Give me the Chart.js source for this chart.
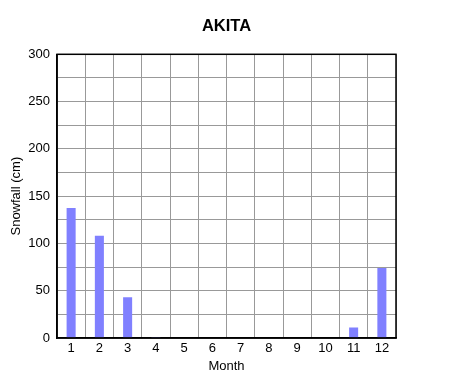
<!DOCTYPE html>
<html><head><meta charset="utf-8">
<script src="https://cdn.jsdelivr.net/npm/chart.js@4/dist/chart.umd.min.js"></script>
<style>html,body{margin:0;padding:0;background:#fff}#wrap{width:460px;height:390px}</style>
</head><body><div id="wrap"><canvas id="c" width="460" height="390"></canvas></div>
<script>
const months = ['1','2','3','4','5','6','7','8','9','10','11','12'];
const snowfall = [137.5, 108, 43, 1, 0, 0, 0, 0, 0, 0, 11, 74];
const yTickLabels = [0, 50, 100, 150, 200, 250, 300];

const frame = {
  id: 'frame',
  afterDraw(chart) {
    const {ctx, chartArea: a} = chart;
    ctx.save();
    ctx.strokeStyle = '#000';
    ctx.lineWidth = 1.5;
    ctx.strokeRect(a.left, a.top, a.right - a.left, a.bottom - a.top);
    ctx.restore();
  }
};

new Chart(document.getElementById('c'), {
  type: 'bar',
  data: { labels: months, datasets: [{ data: snowfall, backgroundColor: '#8080ff', borderWidth: 0,
    categoryPercentage: 1, barPercentage: 0.32 }] },
  options: {
    responsive: false, animation: false,
    layout: { padding: { left: 0, right: 64, top: 0, bottom: 0 } },
    plugins: {
      legend: { display: false }, tooltip: { enabled: false },
      title: { display: true, text: 'AKITA', color: '#000', fullSize: false,
        font: { family: 'Liberation Sans, Arial, sans-serif', size: 16.5, weight: 'bold' },
        padding: { top: 16.1, bottom: 18.4 } }
    },
    scales: {
      x: {
        grid: { color: '#999', offset: true, drawTicks: false },
        border: { color: '#000', width: 1.5 },
        ticks: { color: '#000', padding: 3, font: { family: 'Liberation Sans, Arial, sans-serif', size: 13 } },
        title: { display: true, text: 'Month', color: '#000', padding: { top: 0, bottom: 16 },
          font: { family: 'Liberation Sans, Arial, sans-serif', size: 13 } },
        afterFit(s) { s.height = 52; }
      },
      y: {
        min: 0, max: 300,
        grid: { color: '#999', drawTicks: false },
        border: { color: '#000', width: 1.5 },
        ticks: { stepSize: 25, color: '#000', padding: 7,
          font: { family: 'Liberation Sans, Arial, sans-serif', size: 13 },
          callback: v => yTickLabels.includes(v) ? String(v) : '' },
        title: { display: true, text: 'Snowfall (cm)', color: '#000', padding: { top: 9, bottom: 0 },
          font: { family: 'Liberation Sans, Arial, sans-serif', size: 13 } },
        afterFit(s) { s.width = 57; }
      }
    }
  },
  plugins: [frame]
});
</script></body></html>
